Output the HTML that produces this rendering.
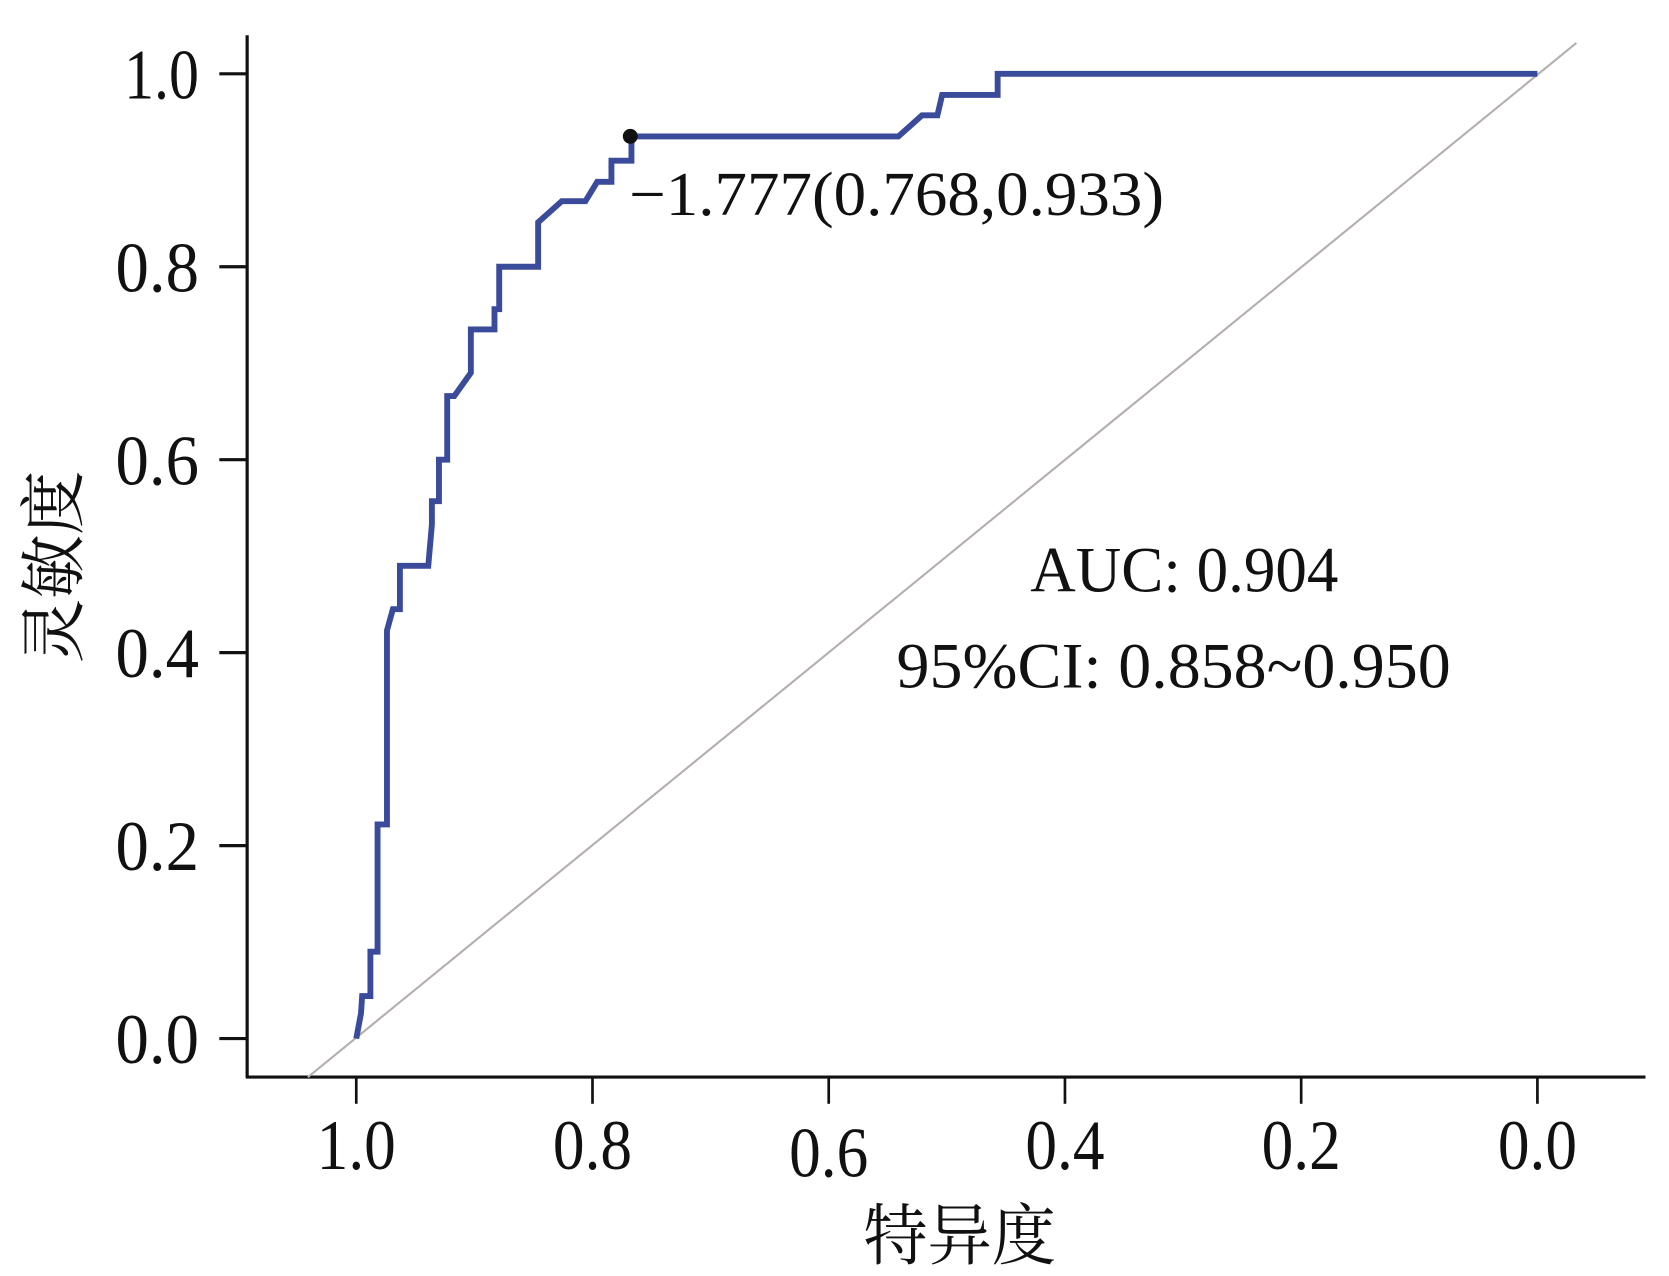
<!DOCTYPE html>
<html><head><meta charset="utf-8">
<style>
html,body{margin:0;padding:0;background:#fff;}
svg{display:block;}
text{font-family:"Liberation Serif","Noto Serif CJK SC",serif;fill:#111;}
</style></head>
<body>
<svg id="chart" width="1669" height="1276" viewBox="0 0 1560 1193" preserveAspectRatio="none" xmlns="http://www.w3.org/2000/svg">
<rect x="0" y="0" width="1560" height="1193" fill="#fff"/>
<line x1="231" y1="33" x2="231" y2="1008" stroke="#111" stroke-width="3"/>
<line x1="230" y1="1007" x2="1538" y2="1007" stroke="#111" stroke-width="3"/>
<g id="ticks"></g>
<line id="diag" stroke="#b5b0ad" stroke-width="2"/>
<path id="roc" fill="none" stroke="#3b4b9b" stroke-width="5.5" stroke-linejoin="miter"/>
<circle id="cut" r="7" fill="#111"/>
<text x="588" y="201" font-size="58" textLength="500" lengthAdjust="spacingAndGlyphs">−1.777(0.768,0.933)</text>
<text x="963" y="553" font-size="60" textLength="288" lengthAdjust="spacingAndGlyphs">AUC: 0.904</text>
<text x="838" y="643" font-size="60" textLength="518" lengthAdjust="spacingAndGlyphs">95%CI: 0.858~0.950</text>
<text x="897" y="1177" font-size="62" text-anchor="middle" textLength="180" lengthAdjust="spacingAndGlyphs">特异度</text>
<text transform="translate(72,530) rotate(-90)" font-size="62" text-anchor="middle" textLength="180" lengthAdjust="spacingAndGlyphs">灵敏度</text>
</svg>
<script>
const xTicks = [1.0, 0.8, 0.6, 0.4, 0.2, 0.0];
const xTickLabels = ["1.0", "0.8", "0.6", "0.4", "0.2", "0.0"];
const yTicks = [0.0, 0.2, 0.4, 0.6, 0.8, 1.0];
const yTickLabels = ["0.0", "0.2", "0.4", "0.6", "0.8", "1.0"];
const rocPoints = [
[1.000,0.000],[0.996,0.026],[0.995,0.044],[0.988,0.044],[0.988,0.090],[0.982,0.090],
[0.982,0.222],[0.974,0.222],[0.974,0.423],[0.969,0.445],[0.963,0.445],[0.963,0.490],
[0.939,0.490],[0.936,0.533],[0.936,0.557],[0.930,0.557],[0.930,0.600],[0.923,0.600],
[0.923,0.666],[0.917,0.666],[0.903,0.690],[0.903,0.735],[0.883,0.735],[0.883,0.756],
[0.879,0.756],[0.879,0.800],[0.846,0.800],[0.846,0.846],[0.826,0.868],[0.806,0.868],
[0.796,0.888],[0.784,0.888],[0.784,0.910],[0.767,0.910],[0.767,0.935],[0.541,0.935],
[0.521,0.957],[0.508,0.957],[0.504,0.978],[0.457,0.978],[0.457,1.000],[0.000,1.000]
];
const cutoff = [0.768, 0.933];
const diagonal = [[1.041,-0.040],[-0.033,1.032]];

const X = v => 1437 - v * 1104;
const Y = v => 971 - v * 902;
const NS = "http://www.w3.org/2000/svg";
const tg = document.getElementById('ticks');

xTicks.forEach((v, i) => {
  const l = document.createElementNS(NS, 'line');
  l.setAttribute('x1', X(v)); l.setAttribute('x2', X(v));
  l.setAttribute('y1', 1007); l.setAttribute('y2', 1032);
  l.setAttribute('stroke', '#111'); l.setAttribute('stroke-width', 2.5);
  
  
  tg.appendChild(l);
  const t = document.createElementNS(NS, 'text');
  t.setAttribute('x', X(v)); t.setAttribute('y', v === 0.6 ? 1100 : 1093);
  t.setAttribute('font-size', 66); t.setAttribute('text-anchor', 'middle');
  t.setAttribute('textLength', 74); t.setAttribute('lengthAdjust', 'spacingAndGlyphs');
  t.textContent = xTickLabels[i];
  
  
  tg.appendChild(t);
});
yTicks.forEach((v, i) => {
  const l = document.createElementNS(NS, 'line');
  l.setAttribute('x1', 205); l.setAttribute('x2', 231);
  l.setAttribute('y1', Y(v)); l.setAttribute('y2', Y(v));
  l.setAttribute('stroke', '#111'); l.setAttribute('stroke-width', 3);
  
  
  tg.appendChild(l);
  const t = document.createElementNS(NS, 'text');
  t.setAttribute('x', 186); t.setAttribute('y', Y(v) + 23);
  t.setAttribute('font-size', 66); t.setAttribute('text-anchor', 'end');
  t.setAttribute('textLength', v === 1.0 ? 70 : 78); t.setAttribute('lengthAdjust', 'spacingAndGlyphs');
  t.textContent = yTickLabels[i];
  
  
  tg.appendChild(t);
});

const d = document.getElementById('diag');
d.setAttribute('x1', X(diagonal[0][0])); d.setAttribute('y1', Y(diagonal[0][1]));
d.setAttribute('x2', X(diagonal[1][0])); d.setAttribute('y2', Y(diagonal[1][1]));

document.getElementById('roc').setAttribute('d',
  rocPoints.map((p, i) => (i ? 'L' : 'M') + X(p[0]).toFixed(1) + ' ' + Y(p[1]).toFixed(1)).join(' '));
const c = document.getElementById('cut');
c.setAttribute('cx', X(cutoff[0])); c.setAttribute('cy', Y(cutoff[1]) - 2);
</script>
</body></html>
